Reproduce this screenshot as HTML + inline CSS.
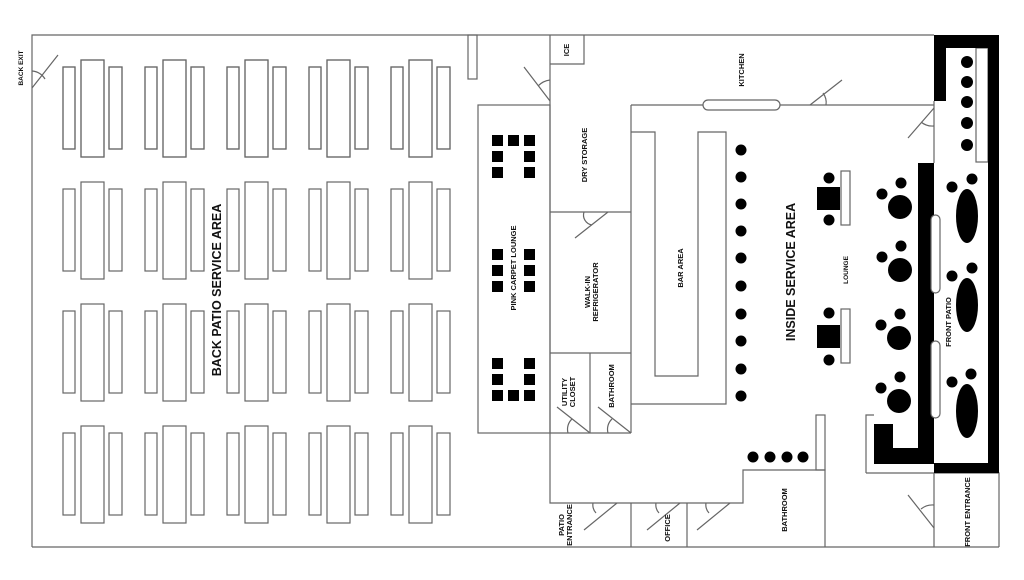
<!DOCTYPE html>
<html><head><meta charset="utf-8"><style>
html,body{margin:0;padding:0;background:#fff;}
svg{display:block;}
text{font-family:"Liberation Sans Narrow","Liberation Sans",sans-serif;font-weight:bold;fill:#111;}
</style></head><body>
<svg width="1024" height="580" viewBox="0 0 1024 580" xmlns="http://www.w3.org/2000/svg">
<g fill="none" stroke="#666" stroke-width="1.2">
<!-- outer -->
<path d="M32 547 V35 H934 M32 547 H999"/>
<!-- patio tables -->
<g id="grp">
<rect x="63" y="67" width="12" height="82"/><rect x="81" y="60" width="23" height="97"/><rect x="109" y="67" width="13" height="82"/>
</g>
<use href="#grp" x="82"/><use href="#grp" x="164"/><use href="#grp" x="246"/><use href="#grp" x="328"/>
<g id="row2"><use href="#grp"/><use href="#grp" x="82"/><use href="#grp" x="164"/><use href="#grp" x="246"/><use href="#grp" x="328"/></g>
</g>
<g fill="none" stroke="#666" stroke-width="1.2">
<use href="#row2" y="122"/><use href="#row2" y="244"/><use href="#row2" y="366"/>
<!-- back exit door -->
<path d="M32 88 L58 55 M32 71 A17 17 0 0 1 45 79"/>
<rect x="468" y="35" width="9" height="44"/>
<!-- ice -->
<path d="M550 35 V503 H743 V470 H825 V547 M550 64 H584 V35"/>
<path d="M550 101 L524 67 M550 80 A20 20 0 0 0 538 86"/>
<!-- pink lounge -->
<rect x="478" y="105" width="72" height="328"/>
<!-- dry storage / walkin / utility -->
<path d="M550 212 H631 M631 105 V433 M550 353 H631 M590 353 V433 M550 433 H631"/>
<path d="M608 212 L575 238 M584 212 A10 10 0 0 0 592 225"/>
<path d="M557 407 L590 433 M568 433 A14 14 0 0 1 572 419"/>
<path d="M598 407 L631 433 M608 433 A14 14 0 0 1 612 419"/>
<!-- bar -->
<path d="M631 105 H703 M631 132 H655 V376 H698 V132 H726 V404 H631"/>
<rect x="703" y="100" width="77" height="10" rx="5"/>
<path d="M780 105 H934"/>
<path d="M810 105 L842 80 M826 105 A16 16 0 0 0 823 93"/>
<!-- right walls -->
<path d="M934 101 V163 M934 473 V547 M866 473 H999 V547 M866 473 V415 H874"/>
<path d="M934 108 L908 138 M934 126 A18 18 0 0 1 921 122"/>
<path d="M934 528 L908 495 M934 505 A18 18 0 0 0 921 509"/>
<rect x="976" y="48" width="12" height="114"/>
<rect x="816" y="415" width="9" height="55"/>
<!-- bottom rooms -->
<path d="M631 503 V547 M687 503 V547"/>
<path d="M617 503 L584 530 M593 503 A12 12 0 0 0 596 513"/>
<path d="M680 503 L647 530 M656 503 A12 12 0 0 0 659 513"/>
<path d="M730 503 L697 530 M706 503 A12 12 0 0 0 709 513"/>
<!-- lounge thin rects -->
<rect x="841" y="171" width="9" height="54"/>
<rect x="841" y="309" width="9" height="54"/>
</g>
<!-- black walls -->
<g fill="#000">
<path d="M934 35 H999 V473 H934 V463 H988 V48 H946 V101 H934 Z"/>
<path d="M918 163 H934 V464 H874 V424 H893 V448 H918 Z"/>
</g>
<g fill="#fff" stroke="#666" stroke-width="1.2">
<rect x="931" y="215" width="9" height="78" rx="4.5"/>
<rect x="931" y="341" width="9" height="77" rx="4.5"/>
</g>
<g fill="#000">
<!-- pink lounge squares -->
<rect x="492" y="135" width="11" height="11"/><rect x="508" y="135" width="11" height="11"/><rect x="524" y="135" width="11" height="11"/>
<rect x="492" y="151" width="11" height="11"/><rect x="524" y="151" width="11" height="11"/>
<rect x="492" y="167" width="11" height="11"/><rect x="524" y="167" width="11" height="11"/>
<rect x="492" y="249" width="11" height="11"/><rect x="524" y="249" width="11" height="11"/>
<rect x="492" y="265" width="11" height="11"/><rect x="524" y="265" width="11" height="11"/>
<rect x="492" y="281" width="11" height="11"/><rect x="524" y="281" width="11" height="11"/>
<rect x="492" y="358" width="11" height="11"/><rect x="524" y="358" width="11" height="11"/>
<rect x="492" y="374" width="11" height="11"/><rect x="524" y="374" width="11" height="11"/>
<rect x="492" y="390" width="11" height="11"/><rect x="508" y="390" width="11" height="11"/><rect x="524" y="390" width="11" height="11"/>
<!-- bar dots -->
<circle cx="741" cy="150" r="5.5"/><circle cx="741" cy="177" r="5.5"/><circle cx="741" cy="204" r="5.5"/><circle cx="741" cy="231" r="5.5"/><circle cx="741" cy="258" r="5.5"/><circle cx="741" cy="286" r="5.5"/><circle cx="741" cy="314" r="5.5"/><circle cx="741" cy="341" r="5.5"/><circle cx="741" cy="369" r="5.5"/><circle cx="741" cy="396" r="5.5"/>
<circle cx="753" cy="457" r="5.5"/><circle cx="770" cy="457" r="5.5"/><circle cx="787" cy="457" r="5.5"/><circle cx="803" cy="457" r="5.5"/>
<!-- lounge -->
<rect x="817" y="187" width="23" height="23"/><circle cx="829" cy="178" r="5.5"/><circle cx="829" cy="220" r="5.5"/>
<rect x="817" y="325" width="23" height="23"/><circle cx="829" cy="313" r="5.5"/><circle cx="829" cy="360" r="5.5"/>
<!-- round tables -->
<circle cx="900" cy="207" r="12"/><circle cx="882" cy="194" r="5.5"/><circle cx="901" cy="183" r="5.5"/>
<circle cx="900" cy="270" r="12"/><circle cx="882" cy="257" r="5.5"/><circle cx="901" cy="246" r="5.5"/>
<circle cx="899" cy="338" r="12"/><circle cx="881" cy="325" r="5.5"/><circle cx="900" cy="314" r="5.5"/>
<circle cx="899" cy="401" r="12"/><circle cx="881" cy="388" r="5.5"/><circle cx="900" cy="377" r="5.5"/>
<!-- front patio -->
<circle cx="967" cy="62" r="6"/><circle cx="967" cy="82" r="6"/><circle cx="967" cy="102" r="6"/><circle cx="967" cy="123" r="6"/><circle cx="967" cy="145" r="6"/>
<ellipse cx="967" cy="216" rx="11" ry="27"/><circle cx="952" cy="187" r="5.5"/><circle cx="972" cy="179" r="5.5"/>
<ellipse cx="967" cy="305" rx="11" ry="27"/><circle cx="952" cy="276" r="5.5"/><circle cx="972" cy="268" r="5.5"/>
<ellipse cx="967" cy="411" rx="11" ry="27"/><circle cx="952" cy="382" r="5.5"/><circle cx="971" cy="374" r="5.5"/>
</g>
<!-- labels -->
<g text-anchor="middle">
<text transform="translate(221,290) rotate(-90)" font-size="12.5">BACK PATIO SERVICE AREA</text>
<text transform="translate(795,272) rotate(-90)" font-size="12.5">INSIDE SERVICE AREA</text>
<text transform="translate(23,68) rotate(-90)" font-size="6.5">BACK EXIT</text>
<text transform="translate(516,268) rotate(-90)" font-size="7.5">PINK CARPET LOUNGE</text>
<text transform="translate(587,155) rotate(-90)" font-size="7.5">DRY STORAGE</text>
<text transform="translate(590,292) rotate(-90)" font-size="7.5">WALK-IN</text>
<text transform="translate(598,292) rotate(-90)" font-size="7.5">REFRIGERATOR</text>
<text transform="translate(683,268) rotate(-90)" font-size="7.5">BAR AREA</text>
<text transform="translate(744,70) rotate(-90)" font-size="7.5">KITCHEN</text>
<text transform="translate(569,50) rotate(-90)" font-size="7.5">ICE</text>
<text transform="translate(567,392) rotate(-90)" font-size="7.5">UTILITY</text>
<text transform="translate(575,392) rotate(-90)" font-size="7.5">CLOSET</text>
<text transform="translate(614,386) rotate(-90)" font-size="7.5">BATHROOM</text>
<text transform="translate(787,510) rotate(-90)" font-size="7.5">BATHROOM</text>
<text transform="translate(670,528) rotate(-90)" font-size="7.5">OFFICE</text>
<text transform="translate(564,525) rotate(-90)" font-size="7.5">PATIO</text>
<text transform="translate(572,525) rotate(-90)" font-size="7.5">ENTRANCE</text>
<text transform="translate(848,270) rotate(-90)" font-size="6.5">LOUNGE</text>
<text transform="translate(951,322) rotate(-90)" font-size="7.5">FRONT PATIO</text>
<text transform="translate(970,512) rotate(-90)" font-size="7.5">FRONT ENTRANCE</text>
</g>
</svg>
</body></html>
